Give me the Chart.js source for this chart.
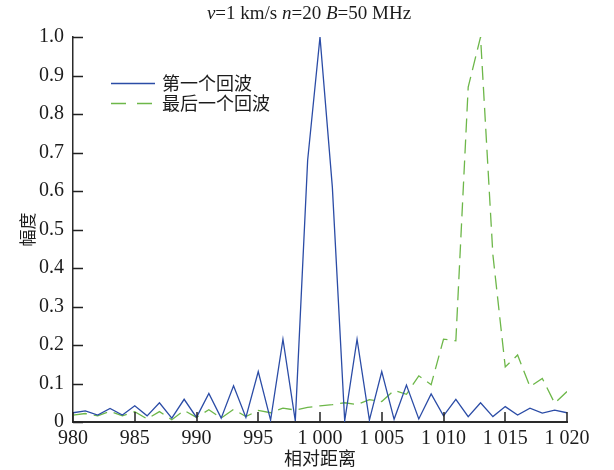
<!DOCTYPE html>
<html><head><meta charset="utf-8">
<script src="https://cdn.jsdelivr.net/npm/chart.js@4/dist/chart.umd.min.js"></script>
<style>html,body{margin:0;padding:0;background:#fff;}</style>
</head><body>
<canvas id="c" width="614" height="470"></canvas>
<script>
// ---- data ----
const distances = [980,981,982,983,984,985,986,987,988,989,990,991,992,993,994,995,996,997,998,999,
  1000,1001,1002,1003,1004,1005,1006,1007,1008,1009,1010,1011,1012,1013,1014,1015,1016,1017,1018,1019,1020];
const firstEcho = [0.024,0.029,0.018,0.035,0.018,0.042,0.016,0.050,0.010,0.059,0.012,0.074,0.010,0.094,0.012,0.131,0.005,0.215,0.003,0.680,
  1.000,0.610,0.003,0.215,0.005,0.131,0.007,0.096,0.008,0.073,0.016,0.059,0.014,0.050,0.014,0.040,0.018,0.036,0.023,0.031,0.024];
const lastEcho = [0.018,0.022,0.016,0.028,0.016,0.027,0.008,0.027,0.006,0.030,0.012,0.032,0.010,0.033,0.014,0.030,0.024,0.036,0.031,0.038,
  0.042,0.045,0.050,0.045,0.058,0.053,0.082,0.072,0.120,0.097,0.215,0.211,0.870,1.000,0.434,0.143,0.174,0.092,0.113,0.049,0.079];
const seriesNames = ['第一个回波','最后一个回波'];
const xTickValues = [980,985,990,995,1000,1005,1010,1015,1020];
const xTickLabels = ['980','985','990','995','1 000','1 005','1 010','1 015','1 020'];
const yTickValues = [0,0.1,0.2,0.3,0.4,0.5,0.6,0.7,0.8,0.9,1.0];
const yTickLabels = ['0','0.1','0.2','0.3','0.4','0.5','0.6','0.7','0.8','0.9','1.0'];
const titleParts = [['v','italic'],['=1 km/s ','normal'],['n','italic'],['=20 ','normal'],['B','italic'],['=50 MHz','normal']];
const xTitle = '相对距离';
const yTitle = '幅度';

const BLUE = '#2b4ca6';
const GREEN = '#6db749';
const TXT = '#1c1c1c';
const SERIF = '"Liberation Serif", "Times New Roman", serif';
const CJK = '"Noto Sans CJK SC", sans-serif';

const bgPlugin = {
  id: 'bg',
  beforeDraw(chart) {
    const ctx = chart.ctx;
    ctx.save(); ctx.fillStyle = '#ffffff'; ctx.fillRect(0, 0, chart.width, chart.height); ctx.restore();
  }
};

const decorPlugin = {
  id: 'decor',
  afterDraw(chart) {
    const ctx = chart.ctx;
    const xs = chart.scales.x, ys = chart.scales.y;
    const ca = chart.chartArea;
    ctx.save();
    // inward tick marks
    ctx.strokeStyle = '#222';
    ctx.lineWidth = 1.5;
    ctx.beginPath();
    xTickValues.forEach(v => {
      const px = Math.round(xs.getPixelForValue(v));
      ctx.moveTo(px, ca.bottom); ctx.lineTo(px, ca.bottom - 10);
    });
    yTickValues.forEach(v => {
      const py = Math.round(ys.getPixelForValue(v)) + 0.5;
      ctx.moveTo(ca.left, py); ctx.lineTo(ca.left + 10, py);
    });
    ctx.stroke();

    // title with italic variables
    ctx.fillStyle = TXT;
    ctx.textBaseline = 'alphabetic';
    ctx.textAlign = 'left';
    const size = 19;
    let total = 0;
    titleParts.forEach(([t, st]) => { ctx.font = st + ' ' + size + 'px ' + SERIF; total += ctx.measureText(t).width; });
    let x = 309 - total / 2;
    titleParts.forEach(([t, st]) => { ctx.font = st + ' ' + size + 'px ' + SERIF; ctx.fillText(t, x, 19); x += ctx.measureText(t).width; });

    // legend
    const ds = chart.data.datasets;
    const rows = [83, 103];
    ctx.font = '18px ' + CJK;
    ctx.textBaseline = 'middle';
    ds.forEach((d, i) => {
      ctx.strokeStyle = d.borderColor;
      ctx.lineWidth = 1.3;
      ctx.setLineDash(i === 1 ? [15, 11] : []);
      ctx.beginPath(); ctx.moveTo(111, rows[i] + 0.5); ctx.lineTo(155, rows[i] + 0.5); ctx.stroke();
      ctx.setLineDash([]);
      ctx.fillStyle = TXT;
      ctx.fillText(d.label, 162, rows[i]);
    });
    ctx.restore();
  }
};

new Chart(document.getElementById('c'), {
  type: 'line',
  data: {
    datasets: [
      { label: seriesNames[0], data: distances.map((d, i) => ({x: d, y: firstEcho[i]})),
        borderColor: BLUE, borderWidth: 1.3, pointRadius: 0, tension: 0, fill: false },
      { label: seriesNames[1], data: distances.map((d, i) => ({x: d, y: lastEcho[i]})),
        borderColor: GREEN, borderWidth: 1.3, borderDash: [14, 7], pointRadius: 0, tension: 0, fill: false }
    ]
  },
  options: {
    responsive: false,
    animation: false,
    devicePixelRatio: 1,
    layout: { padding: { left: 0, right: 47, top: 37, bottom: 0 } },
    plugins: { legend: { display: false }, title: { display: false }, tooltip: { enabled: false } },
    scales: {
      x: {
        type: 'linear', min: 980, max: 1020,
        afterBuildTicks: s => { s.ticks = xTickValues.map(v => ({value: v})); },
        ticks: { callback: v => { const i = xTickValues.indexOf(v); return i >= 0 ? xTickLabels[i] : ''; },
          font: { family: SERIF, size: 20 }, color: TXT, padding: 5, maxRotation: 0, autoSkip: false },
        grid: { display: false, drawTicks: false },
        border: { display: true, color: '#2a2a2a', width: 2 },
        title: { display: true, text: xTitle, font: { family: CJK, size: 18 }, color: TXT, padding: { top: 0, bottom: 1 } },
        afterFit: s => { s.height = 48; }
      },
      y: {
        type: 'linear', min: 0, max: 1,
        afterBuildTicks: s => { s.ticks = yTickValues.map(v => ({value: v})); },
        ticks: { callback: v => { const i = yTickValues.findIndex(t => Math.abs(t - v) < 1e-9); return i >= 0 ? yTickLabels[i] : ''; },
          font: { family: SERIF, size: 20 }, color: TXT, padding: 9, autoSkip: false },
        grid: { display: false, drawTicks: false },
        border: { display: true, color: '#2a2a2a', width: 1.5 },
        title: { display: true, text: yTitle, font: { family: CJK, size: 17 }, color: TXT, padding: { top: 17, bottom: 0 } },
        afterFit: s => { s.width = 73; }
      }
    }
  },
  plugins: [bgPlugin, decorPlugin]
});
</script>
</body></html>
